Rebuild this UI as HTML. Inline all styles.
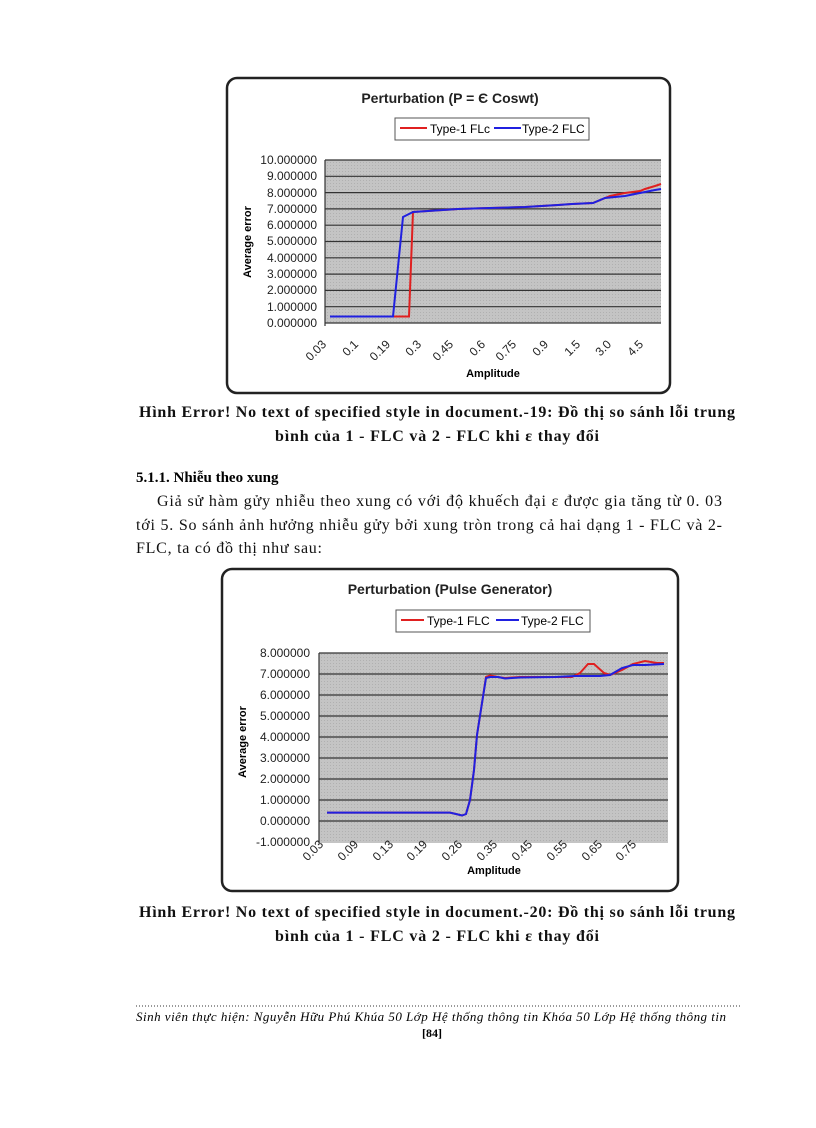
<!DOCTYPE html>
<html><head><meta charset="utf-8"><style>
body{margin:0;background:#fff;}
svg text{font-family:"Liberation Sans",sans-serif;}
.s{font-family:"Liberation Serif","DejaVu Serif",serif;}
</style></head><body>
<svg width="816" height="1123" xmlns="http://www.w3.org/2000/svg">
<defs>
<pattern id="dots" width="3" height="3" patternUnits="userSpaceOnUse"><rect width="3" height="3" fill="#c4c4c4"/><rect width="1" height="1" fill="#b0b0b0"/></pattern>
</defs>
<!-- Chart 1 -->
<rect x="227" y="78" width="443" height="315" rx="10" fill="#fff" stroke="#222" stroke-width="2.5"/>
<text x="450" y="103" font-size="14" font-weight="bold" text-anchor="middle" fill="#222">Perturbation (P = Є Coswt)</text>
<rect x="395" y="118" width="194" height="22" fill="#fff" stroke="#555"/>
<line x1="400" y1="128" x2="427" y2="128" stroke="#e02020" stroke-width="2"/>
<text x="430" y="133" font-size="12">Type-1 FLc</text>
<line x1="494" y1="128" x2="521" y2="128" stroke="#2020e0" stroke-width="2"/>
<text x="522" y="133" font-size="12">Type-2 FLC</text>
<rect x="325" y="160" width="336" height="163" fill="url(#dots)"/>
<g stroke="#333" stroke-width="1.2">
<line x1="325" y1="160" x2="661" y2="160"/><line x1="325" y1="176.3" x2="661" y2="176.3"/><line x1="325" y1="192.6" x2="661" y2="192.6"/><line x1="325" y1="208.9" x2="661" y2="208.9"/><line x1="325" y1="225.2" x2="661" y2="225.2"/><line x1="325" y1="241.5" x2="661" y2="241.5"/><line x1="325" y1="257.8" x2="661" y2="257.8"/><line x1="325" y1="274.1" x2="661" y2="274.1"/><line x1="325" y1="290.4" x2="661" y2="290.4"/><line x1="325" y1="306.7" x2="661" y2="306.7"/><line x1="325" y1="323" x2="661" y2="323"/>
<line x1="325" y1="160" x2="325" y2="326"/>
</g>
<g font-size="12" text-anchor="end" fill="#222">
<text x="317" y="164">10.000000</text><text x="317" y="180">9.000000</text><text x="317" y="197">8.000000</text><text x="317" y="213">7.000000</text><text x="317" y="229">6.000000</text><text x="317" y="245">5.000000</text><text x="317" y="262">4.000000</text><text x="317" y="278">3.000000</text><text x="317" y="294">2.000000</text><text x="317" y="311">1.000000</text><text x="317" y="327">0.000000</text>
</g>
<text transform="translate(251,242) rotate(-90)" font-size="11" font-weight="bold" text-anchor="middle">Average error</text>
<g font-size="12" text-anchor="end" fill="#222">
<text transform="translate(327,345) rotate(-45)">0.03</text><text transform="translate(359,345) rotate(-45)">0.1</text><text transform="translate(391,345) rotate(-45)">0.19</text><text transform="translate(422,345) rotate(-45)">0.3</text><text transform="translate(454,345) rotate(-45)">0.45</text><text transform="translate(486,345) rotate(-45)">0.6</text><text transform="translate(517,345) rotate(-45)">0.75</text><text transform="translate(549,345) rotate(-45)">0.9</text><text transform="translate(581,345) rotate(-45)">1.5</text><text transform="translate(612,345) rotate(-45)">3.0</text><text transform="translate(644,345) rotate(-45)">4.5</text>
</g>
<text x="493" y="377" font-size="11" font-weight="bold" text-anchor="middle">Amplitude</text>
<polyline fill="none" stroke="#e02020" stroke-width="2" points="330,316.5 403,316.5 409,316.5 413,212 458,209 490,208 525,207 558,205 572,204 593,203 610,196 625,193 640,191 645,189 655,186 661,184"/>
<polyline fill="none" stroke="#2020e0" stroke-width="2" points="330,316.5 393,316.5 403,217 413,212 458,209 490,208 525,207 558,205 572,204 593,203 605,198 625,196 640,193 655,190 661,189"/>
<!-- Caption 1 -->
<g font-size="16" font-weight="bold" fill="#111">
<text x="139" y="417" class="s" textLength="596" lengthAdjust="spacing">Hình Error! No text of specified style in document.-19: Đồ thị so sánh lỗi trung</text>
<text x="275" y="441" class="s" textLength="324" lengthAdjust="spacing">bình của 1 - FLC và 2 - FLC khi ε thay đổi</text>
</g>
<text x="136" y="482" class="s" font-size="15" font-weight="bold">5.1.1.  Nhiễu theo xung</text>
<g font-size="16" fill="#111">
<text x="157" y="506" class="s" textLength="565" lengthAdjust="spacing">Giả sử hàm gửy nhiễu theo xung có với độ khuếch đại ε được gia tăng từ 0. 03</text>
<text x="136" y="530" class="s" textLength="586" lengthAdjust="spacing">tới 5. So sánh ảnh hưởng nhiễu gửy bởi xung tròn trong cả hai dạng 1 - FLC và 2-</text>
<text x="136" y="553" class="s" textLength="186" lengthAdjust="spacing">FLC, ta có đồ thị như sau:</text>
</g>
<!-- Chart 2 -->
<rect x="222" y="569" width="456" height="322" rx="10" fill="#fff" stroke="#222" stroke-width="2.5"/>
<text x="450" y="594" font-size="14" font-weight="bold" text-anchor="middle" fill="#222">Perturbation (Pulse Generator)</text>
<rect x="396" y="610" width="194" height="22" fill="#fff" stroke="#555"/>
<line x1="401" y1="620" x2="424" y2="620" stroke="#e02020" stroke-width="2"/>
<text x="427" y="625" font-size="12">Type-1 FLC</text>
<line x1="496" y1="620" x2="519" y2="620" stroke="#2020e0" stroke-width="2"/>
<text x="521" y="625" font-size="12">Type-2 FLC</text>
<rect x="319" y="653" width="349" height="190" fill="url(#dots)"/>
<g stroke="#333" stroke-width="1.2">
<line x1="319" y1="653" x2="668" y2="653"/><line x1="319" y1="674" x2="668" y2="674"/><line x1="319" y1="695" x2="668" y2="695"/><line x1="319" y1="716" x2="668" y2="716"/><line x1="319" y1="737" x2="668" y2="737"/><line x1="319" y1="758" x2="668" y2="758"/><line x1="319" y1="779" x2="668" y2="779"/><line x1="319" y1="800" x2="668" y2="800"/><line x1="319" y1="821" x2="668" y2="821"/>
<line x1="319" y1="653" x2="319" y2="843"/>
</g>
<g font-size="12" text-anchor="end" fill="#222">
<text x="310" y="657">8.000000</text><text x="310" y="678">7.000000</text><text x="310" y="699">6.000000</text><text x="310" y="720">5.000000</text><text x="310" y="741">4.000000</text><text x="310" y="762">3.000000</text><text x="310" y="783">2.000000</text><text x="310" y="804">1.000000</text><text x="310" y="825">0.000000</text><text x="310" y="846">-1.000000</text>
</g>
<text transform="translate(246,742) rotate(-90)" font-size="11" font-weight="bold" text-anchor="middle">Average error</text>
<g font-size="12" text-anchor="end" fill="#222">
<text transform="translate(324,845) rotate(-45)">0.03</text><text transform="translate(359,845) rotate(-45)">0.09</text><text transform="translate(394,845) rotate(-45)">0.13</text><text transform="translate(428,845) rotate(-45)">0.19</text><text transform="translate(463,845) rotate(-45)">0.26</text><text transform="translate(498,845) rotate(-45)">0.35</text><text transform="translate(533,845) rotate(-45)">0.45</text><text transform="translate(568,845) rotate(-45)">0.55</text><text transform="translate(603,845) rotate(-45)">0.65</text><text transform="translate(637,845) rotate(-45)">0.75</text>
</g>
<text x="494" y="874" font-size="11" font-weight="bold" text-anchor="middle">Amplitude</text>
<polyline fill="none" stroke="#e02020" stroke-width="2" points="327,812.6 450,812.6 456,814 462,815.5 466,814 470,800 474,770 477,735 482,703 486,677 490,675.5 498,677 505,678 520,677 555,677 572,677 580,673 588,664 594,664 604,673 610,675 622,670 633,664 645,661 657,663 664,663"/>
<polyline fill="none" stroke="#2020e0" stroke-width="2" points="327,812.6 450,812.6 456,814 462,815.5 466,814 470,800 474,770 477,735 482,703 486,678 490,677 498,677 505,678.5 520,677.5 555,677 575,676 600,676 610,675 622,668 633,665 645,665 664,664"/>
<!-- Caption 2 -->
<g font-size="16" font-weight="bold" fill="#111">
<text x="139" y="917" class="s" textLength="596" lengthAdjust="spacing">Hình Error! No text of specified style in document.-20: Đồ thị so sánh lỗi trung</text>
<text x="275" y="941" class="s" textLength="324" lengthAdjust="spacing">bình của 1 - FLC và 2 - FLC khi ε thay đổi</text>
</g>
<!-- footer -->
<line x1="136" y1="1006" x2="740" y2="1006" stroke="#333" stroke-dasharray="1,2"/>
<text x="136" y="1021" class="s" font-size="13" font-style="italic" textLength="590" lengthAdjust="spacing">Sinh viên thực hiện: Nguyễn Hữu Phú Khúa 50 Lớp Hệ thống thông tin        Khóa 50 Lớp Hệ thống thông tin</text>
<text x="432" y="1037" class="s" font-size="12" font-weight="bold" text-anchor="middle">[84]</text>
</svg>
</body></html>
